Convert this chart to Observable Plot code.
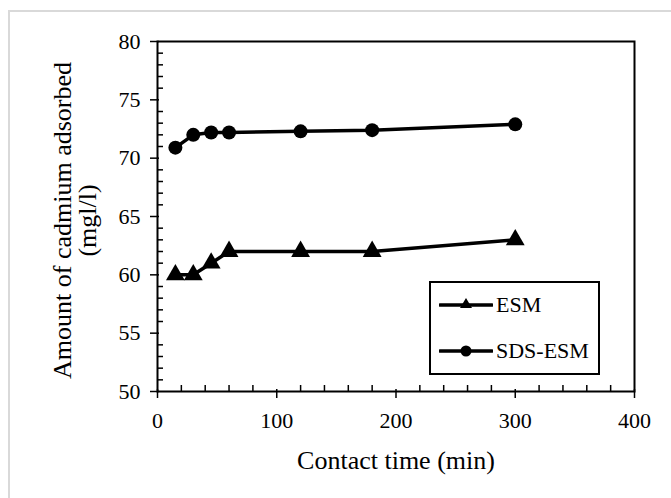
<!DOCTYPE html>
<html>
<head>
<meta charset="utf-8">
<script src="https://cdn.jsdelivr.net/npm/d3@7"></script>
<script src="https://cdn.jsdelivr.net/npm/@observablehq/plot@0.6"></script>
<style>
  html, body { margin: 0; padding: 0; background: #fff; }
  #wrap { position: relative; width: 671px; height: 498px; overflow: hidden; background: #fff; }
  #outer { position: absolute; left: 8px; top: 10px; width: 700px; height: 520px;
           border-top: 2px solid #d9d9d9; border-left: 2px solid #d9d9d9; box-sizing: border-box; }
  #legend { position: absolute; left: 429px; top: 281px; width: 171px; height: 94px; box-sizing: border-box;
            border: 2px solid #000; background: #fff; font-family: "Liberation Serif", serif; font-size: 22px; color: #000; }
  .row { position: absolute; left: 8px; display: flex; align-items: center; }
  .row span { margin-left: 3px; }
</style>
</head>
<body>
<div id="wrap">
  <div id="outer"></div>
</div>
<script>
const contactTime = [15, 30, 45, 60, 120, 180, 300];
const esm = [60, 60, 61, 62, 62, 62, 63];
const sdsEsm = [70.9, 72.0, 72.2, 72.2, 72.3, 72.4, 72.9];
const seriesNames = ["ESM", "SDS-ESM"];
const xMajorTicks = [0, 100, 200, 300, 400];
const yMajorTicks = [50, 55, 60, 65, 70, 75, 80];
const xMinorStep = 20;
const yMinorStep = 1;
const xTitle = "Contact time (min)";
const yTitle = "Amount of cadmium adsorbed\n(mgl/l)";

const rows = [];
contactTime.forEach((t, i) => rows.push({t, v: esm[i], s: seriesNames[0]}));
contactTime.forEach((t, i) => rows.push({t, v: sdsEsm[i], s: seriesNames[1]}));
const xMinor = d3.range(0, 400 + 1e-9, xMinorStep).filter(v => !xMajorTicks.includes(v));
const yMinor = d3.range(50, 80 + 1e-9, yMinorStep).filter(v => !yMajorTicks.includes(v));

const font = "Liberation Serif";
const chart = Plot.plot({
  width: 671, height: 498,
  marginLeft: 157, marginRight: 37, marginTop: 41, marginBottom: 107,
  style: {fontFamily: "'Liberation Serif', serif", fontSize: "22px", color: "#000", background: "transparent", overflow: "visible"},
  x: {domain: [0, 400]},
  y: {domain: [50, 80]},
  marks: [
    Plot.frame({stroke: "#000", strokeWidth: 2}),
    Plot.axisX({ticks: xMinor, tickSize: 6, dy: -6, text: null, strokeWidth: 1.5, label: null}),
    Plot.axisY({ticks: yMinor, tickSize: 6, dx: 6, text: null, strokeWidth: 1.5, label: null}),
    Plot.axisX({ticks: xMajorTicks, tickSize: 9, dy: -2, tickPadding: 14, strokeWidth: 1.5, label: null, fontSize: 22, fontFamily: font}),
    Plot.axisY({ticks: yMajorTicks, tickSize: 9, dx: 2, tickPadding: 10, strokeWidth: 1.5, label: null, fontSize: 22, fontFamily: font}),
    Plot.line(rows, {x: "t", y: "v", z: "s", stroke: "#000", strokeWidth: 3.5}),
    Plot.dot(rows.filter(d => d.s === "ESM"), {x: "t", y: "v", symbol: "triangle", r: 7, fill: "#000"}),
    Plot.dot(rows.filter(d => d.s === "SDS-ESM"), {x: "t", y: "v", symbol: "circle", r: 7, fill: "#000"}),
    Plot.text([xTitle], {frameAnchor: "bottom", dy: 77, fontSize: 26, fontFamily: font}),
    Plot.text([yTitle], {frameAnchor: "left", textAnchor: "middle", rotate: -90, dx: -82, dy: 4, fontSize: 26, lineHeight: 0.98, fontFamily: font})
  ]
});
chart.style.position = "absolute";
chart.style.left = "0px";
chart.style.top = "0px";
d3.select(chart).selectAll("text, tspan, g")
  .attr("font-family", "'Liberation Serif', serif")
  .style("font-family", "'Liberation Serif', serif")
  .style("font-variant", "normal");
const wrap = document.getElementById("wrap");
wrap.appendChild(chart);

// legend (overlay, inside plot area)
const legend = document.createElement("div");
legend.id = "legend";
const mk = (name, shape, top) => {
  const row = document.createElement("div");
  row.className = "row";
  row.style.top = top + "px";
  const sym = shape === "triangle"
    ? `<polygon points="27,2 33,12 21,12" fill="#000"/>`
    : `<circle cx="27" cy="9" r="5.5" fill="#000"/>`;
  row.innerHTML = `<svg width="54" height="18"><line x1="1" y1="9" x2="53" y2="9" stroke="#000" stroke-width="3.5" stroke-linecap="round"/>${sym}</svg><span>${name}</span>`;
  legend.appendChild(row);
};
mk(seriesNames[0], "triangle", 9);
mk(seriesNames[1], "circle", 55);
wrap.appendChild(legend);
</script>
</body>
</html>
